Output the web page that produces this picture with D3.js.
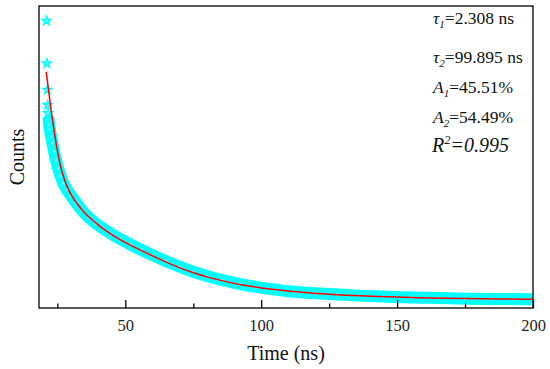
<!DOCTYPE html>
<html><head><meta charset="utf-8">
<script src="https://cdn.jsdelivr.net/npm/d3@7"></script>
<style>
html,body{margin:0;padding:0;background:#fff;}
svg{display:block;font-family:"Liberation Serif","Times New Roman",serif;}
</style></head>
<body><svg id="c" width="550" height="369"></svg>
<script>
// ---- data ----
const decayTime   = [21.0,21.15,21.3,21.45,21.6,21.8,22.0,22.3,22.7,23.2,23.8,24.5,25.3,26.2,27.2,28.5,30,32,34,36.5,39,42,45,48,52,56,60,65,70,75,80,86,92,98,105,112,120,128,136,145,155,165,175,185,193,200];
const decayCounts = [951,810,722,672,645,622,608,590,568,545,518,490,462,437,413,392,372,347,324,300,281,262,245,229,210,192,175,155,137,120,106,92,80,70,61,54,49,45,41,38,35,33,31,30,29.5,29];
const fitTime   = [20.9,21.5,22.2,23.0,24.0,25.0,26.0,27.0,28.5,30.0,32.2,35.0,37.0,40.0,43.2,46.0,49.3,55.4,61.6,68,75,81,87.3,93,99.6,106,111.8,118,124.1,136.3,150,162,175,188,200];
const fitCounts = [782,740,690,635,575,520,475,440,403,375,345,315,298,275,254,237,220,192,166,140,116,100,87,76,67,60,54,50,46,40,36,33,31,30,29];
const xMajorTicks = [50,100,150,200];
const xMinorTicks = [25,75,125,175];
const xTitle = "Time (ns)";
const yTitle = "Counts";
const fitParams = [
  {sym:"τ", sub:"1", val:"=2.308 ns"},
  {sym:"τ", sub:"2", val:"=99.895 ns"},
  {sym:"A", sub:"1", val:"=45.51%"},
  {sym:"A", sub:"2", val:"=54.49%"}
];
const r2Label = {sym:"R", sup:"2", val:"=0.995"};

// ---- layout ----
const L=39, R=533, T=6, B=308;
const svg = d3.select("#c");
const x = d3.scaleLinear().domain([18.25,200]).range([L,R]);
const y = d3.scaleLinear().domain([0,1000]).range([B,T]);

svg.append("defs").append("clipPath").attr("id","clip")
  .append("rect").attr("x",L).attr("y",T).attr("width",R-L).attr("height",B-T);

const plot = svg.append("g").attr("clip-path","url(#clip)");

const pts = decayTime.map((t,i)=>[t,decayCounts[i]]);
const bandLine = d3.line().x(d=>x(d[0])).y(d=>y(d[1])).curve(d3.curveMonotoneX);

// dense measured band (overlapping markers)
plot.append("path").datum(pts.slice(5))
  .attr("d",bandLine).attr("fill","none").attr("stroke","#00FFFF")
  .attr("stroke-width",12).attr("stroke-linecap","round").attr("stroke-linejoin","round");

// star markers
const star = d3.symbol().type(d3.symbolStar).size(26);
plot.selectAll("path.st").data(pts).join("path").attr("class","st")
  .attr("transform",d=>`translate(${x(d[0])},${y(d[1])})`)
  .attr("d",star).attr("fill","#5ffcff").attr("stroke","#00FFFF").attr("stroke-width",1.3);

// fit curve
const fit = fitTime.map((t,i)=>[t,fitCounts[i]]);
const fitLine = d3.line().x(d=>x(d[0])).y(d=>y(d[1])).curve(d3.curveBasis);
plot.append("path").datum(fit).attr("d",fitLine)
  .attr("fill","none").attr("stroke","#FF0000").attr("stroke-width",1.5);

// frame
svg.append("rect").attr("x",L).attr("y",T).attr("width",R-L).attr("height",B-T)
  .attr("fill","none").attr("stroke","#000").attr("stroke-width",1.3);

// x axis ticks (inward)
const ax = svg.append("g").attr("transform",`translate(0,${B})`)
  .call(d3.axisBottom(x).tickValues(xMajorTicks).tickSize(-8).tickPadding(0).tickFormat(d3.format("d")));
ax.select(".domain").remove();
ax.selectAll(".tick line").attr("stroke","#000").attr("stroke-width",1.3);
ax.selectAll(".tick text").attr("y",23).attr("dy",0).attr("font-size",16.5)
  .attr("font-family","Liberation Serif").attr("fill","#222");
svg.append("g").attr("transform",`translate(0,${B})`)
  .call(d3.axisBottom(x).tickValues(xMinorTicks).tickSize(-4.5).tickFormat(""))
  .call(g=>{g.select(".domain").remove(); g.selectAll(".tick line").attr("stroke","#000").attr("stroke-width",1.3);});

// titles
svg.append("text").attr("x",286).attr("y",359.5).attr("text-anchor","middle")
  .attr("font-size",20).attr("fill","#111").text(xTitle);
svg.append("text").attr("transform","translate(24,157) rotate(-90)").attr("text-anchor","middle")
  .attr("font-size",20).attr("fill","#111").text(yTitle);

// fit parameters
const baselines = [24, 63, 93, 123];
fitParams.forEach((p,i)=>{
  const t = svg.append("text").attr("x",433).attr("y",baselines[i]).attr("font-size",17.5).attr("fill","#111");
  t.append("tspan").attr("font-style","italic").text(p.sym);
  t.append("tspan").attr("font-style","italic").attr("font-size",11).attr("dy",4).text(p.sub);
  t.append("tspan").attr("dy",-4).text(p.val);
});
const r = svg.append("text").attr("x",432).attr("y",152).attr("font-size",20)
  .attr("font-style","italic").attr("fill","#111");
r.append("tspan").text(r2Label.sym);
r.append("tspan").attr("font-size",12.5).attr("dy",-8).text(r2Label.sup);
r.append("tspan").attr("dy",8).text(r2Label.val);
</script></body></html>
